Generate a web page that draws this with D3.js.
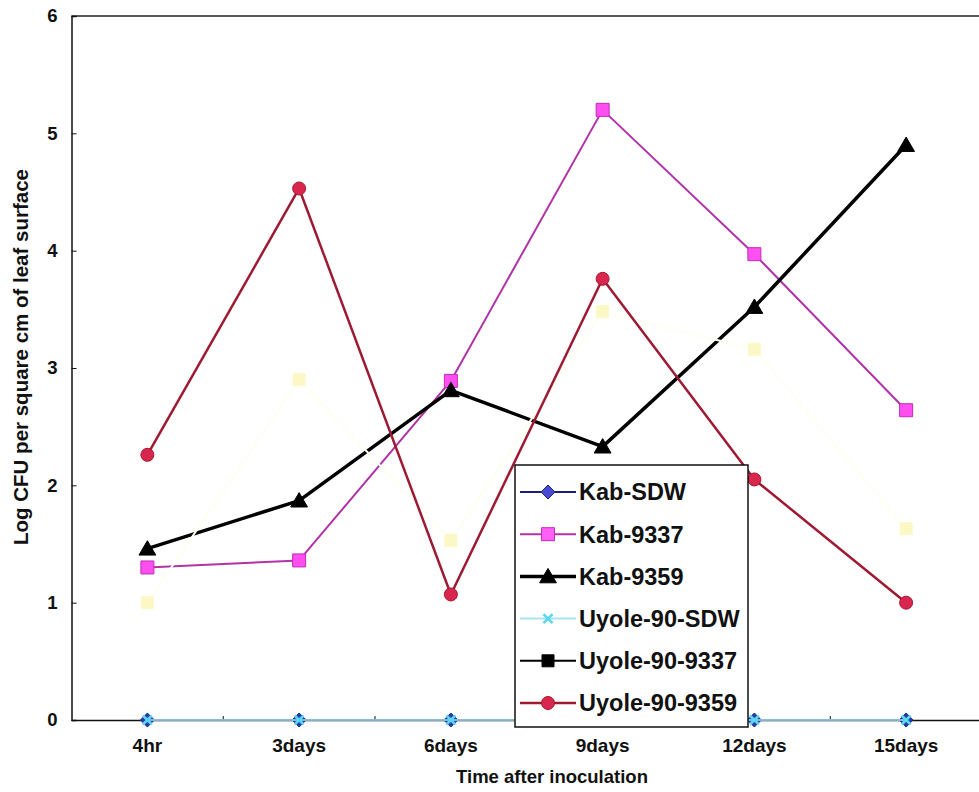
<!DOCTYPE html>
<html lang="en">
<head>
<meta charset="utf-8">
<title>Log CFU per square cm of leaf surface</title>
<style>
  body { margin: 0; background: #fff; }
  svg { display: block; font-family: "Liberation Sans", Arial, sans-serif; }
  .axis path, .axis line { stroke: #111; }
  .axis text { fill: #111; font-weight: bold; }
</style>
</head>
<body>
<script src="https://d3js.org/d3.v7.min.js"></script>
<script>
  // time points
  const categories = ["4hr", "3days", "6days", "9days", "12days", "15days"];

  // series, in legend order
  const seriesNames = ["Kab-SDW", "Kab-9337", "Kab-9359", "Uyole-90-SDW", "Uyole-90-9337", "Uyole-90-9359"];
  const kabSDW       = [0, 0, 0, 0, 0, 0];
  const kab9337      = [1.30, 1.36, 2.89, 5.20, 3.97, 2.64];
  const kab9359      = [1.46, 1.87, 2.81, 2.33, 3.52, 4.90];
  const uyoleSDW     = [0, 0, 0, 0, 0, 0];
  const uyole9337    = [1.00, 2.90, 1.53, 3.48, 3.16, 1.63];
  const uyole9359    = [2.26, 4.53, 1.07, 3.76, 2.05, 1.00];
  const seriesValues = [kabSDW, kab9337, kab9359, uyoleSDW, uyole9337, uyole9359];

  const yTicks = [0, 1, 2, 3, 4, 5, 6];

  // look of each series: plot colours, and the legend ones (differ for Uyole-90-9337)
  const styles = {
    "Kab-SDW":       {line: "#1c1c7a", width: 1.5, marker: "diamond", fill: "#2a3aa8", stroke: "#1c2a8a", size: 14,
                      legLine: "#1c1c7a", legFill: "#4a4ad0"},
    "Kab-9337":      {line: "#b232a8", width: 2, marker: "square", fill: "#ff4ff0", stroke: "#c02cb8", size: 13,
                      legLine: "#b232a8", legFill: "#ff5ff5"},
    "Kab-9359":      {line: "#000", width: 3.5, marker: "triangle", fill: "#000", stroke: "#000", size: 16,
                      legLine: "#000", legFill: "#000"},
    "Uyole-90-SDW":  {line: "#a6e4f2", width: 1.6, marker: "cross", fill: "#5ad8f2", stroke: "#5ad8f2", size: 9,
                      legLine: "#a6e4f2", legFill: "#5ad8f2"},
    "Uyole-90-9337": {line: "#fffef2", width: 2, marker: "square", fill: "#fcf8c6", stroke: "#fcf8c6", size: 12,
                      legLine: "#000", legFill: "#000"},
    "Uyole-90-9359": {line: "#9e1a32", width: 2.5, marker: "circle", fill: "#d8264e", stroke: "#a8182e", size: 13,
                      legLine: "#9e1a32", legFill: "#d8264e"}
  };

  const W = 979, H = 792;
  const plot = {left: 71.5, right: 982, top: 16, bottom: 720};

  const svg = d3.select("body").append("svg")
    .attr("width", W)
    .attr("height", H);

  const x = d3.scaleBand().domain(categories).range([plot.left, plot.right]);
  const y = d3.scaleLinear().domain([0, 6]).range([plot.bottom, plot.top]);
  const cx = function(c) { return x(c) + x.bandwidth() / 2; };

  // top border of plot area
  svg.append("line")
    .attr("x1", plot.left).attr("x2", plot.right)
    .attr("y1", plot.top).attr("y2", plot.top)
    .attr("stroke", "#222").attr("stroke-width", 1.5);

  // y axis
  const yAxis = svg.append("g")
    .attr("class", "axis")
    .attr("transform", "translate(" + plot.left + ",0)")
    .call(d3.axisLeft(y).tickValues(yTicks).tickFormat(d3.format("d")).tickSize(-5).tickPadding(14));
  yAxis.select(".domain").attr("stroke-width", 1.5);
  yAxis.selectAll("text").style("font-size", "18.5px");

  // x axis: labels at the centres, small ticks at the band edges
  const xAxis = svg.append("g")
    .attr("class", "axis")
    .attr("transform", "translate(0," + plot.bottom + ")")
    .call(d3.axisBottom(x).tickSize(0).tickPadding(19));
  xAxis.select(".domain").attr("stroke-width", 1.5);
  xAxis.selectAll("text").style("font-size", "19px");
  xAxis.selectAll(".edge")
    .data(categories.slice(1))
    .enter().append("line")
    .attr("class", "edge")
    .attr("x1", function(d) { return x(d); })
    .attr("x2", function(d) { return x(d); })
    .attr("y1", 0).attr("y2", -4);

  // axis titles
  svg.append("text")
    .attr("x", 552).attr("y", 783)
    .attr("text-anchor", "middle")
    .style("font-size", "18.5px").style("font-weight", "bold").attr("fill", "#111")
    .text("Time after inoculation");

  svg.append("text")
    .attr("transform", "translate(28,357) rotate(-90)")
    .attr("text-anchor", "middle")
    .style("font-size", "20.5px").style("font-weight", "bold").attr("fill", "#111")
    .text("Log CFU per square cm of leaf surface");

  // marker shapes
  function markerPath(kind, s) {
    const h = s / 2;
    if (kind === "diamond") return "M0," + (-h) + "L" + h + ",0L0," + h + "L" + (-h) + ",0Z";
    if (kind === "square") return "M" + (-h) + "," + (-h) + "h" + s + "v" + s + "h" + (-s) + "Z";
    if (kind === "triangle") return "M0," + (-h) + "L" + (h * 1.05) + "," + (h * 0.8) + "L" + (-h * 1.05) + "," + (h * 0.8) + "Z";
    if (kind === "cross") return "M" + (-h) + "," + (-h) + "L" + h + "," + h + "M" + h + "," + (-h) + "L" + (-h) + "," + h;
    return d3.symbol().type(d3.symbolCircle).size(Math.PI * h * h)();
  }

  function drawMarker(g, st, fill, stroke) {
    const p = g.append("path").attr("d", markerPath(st.marker, st.size));
    if (st.marker === "cross") {
      p.attr("fill", "none").attr("stroke", stroke).attr("stroke-width", 2.6);
    } else {
      p.attr("fill", fill).attr("stroke", stroke).attr("stroke-width", 1);
    }
  }

  const line = d3.line()
    .x(function(d) { return cx(d.cat); })
    .y(function(d) { return y(d.v); });

  // lines first, then markers per series
  seriesNames.forEach(function(name, i) {
    const st = styles[name];
    const pts = categories.map(function(c, j) { return {cat: c, v: seriesValues[i][j]}; });
    const g = svg.append("g").attr("class", "series");
    g.append("path")
      .datum(pts)
      .attr("fill", "none")
      .attr("stroke", st.line)
      .attr("stroke-width", st.width)
      .attr("stroke-linejoin", "round")
      .attr("d", line);
    pts.forEach(function(p) {
      const m = g.append("g").attr("transform", "translate(" + cx(p.cat) + "," + y(p.v) + ")");
      drawMarker(m, st, st.fill, st.stroke);
    });
  });

  // legend
  const legend = {x: 515, y: 465, w: 233, h: 262, row: 42.2, first: 27};
  const lg = svg.append("g").attr("transform", "translate(" + legend.x + "," + legend.y + ")");
  lg.append("rect")
    .attr("width", legend.w).attr("height", legend.h)
    .attr("fill", "#fff").attr("stroke", "#111").attr("stroke-width", 1.5);

  seriesNames.forEach(function(name, i) {
    const st = styles[name];
    const ry = legend.first + i * legend.row;
    const row = lg.append("g").attr("transform", "translate(0," + ry + ")");
    row.append("line")
      .attr("x1", 5).attr("x2", 61)
      .attr("stroke", st.legLine)
      .attr("stroke-width", Math.max(st.width, 2));
    const m = row.append("g").attr("transform", "translate(33,0)");
    drawMarker(m, st, st.legFill, st.legLine === "#000" ? "#000" : st.stroke);
    row.append("text")
      .attr("x", 64).attr("dy", "0.36em")
      .style("font-size", "23.5px").style("font-weight", "bold").attr("fill", "#111")
      .text(name);
  });
</script>
</body>
</html>
